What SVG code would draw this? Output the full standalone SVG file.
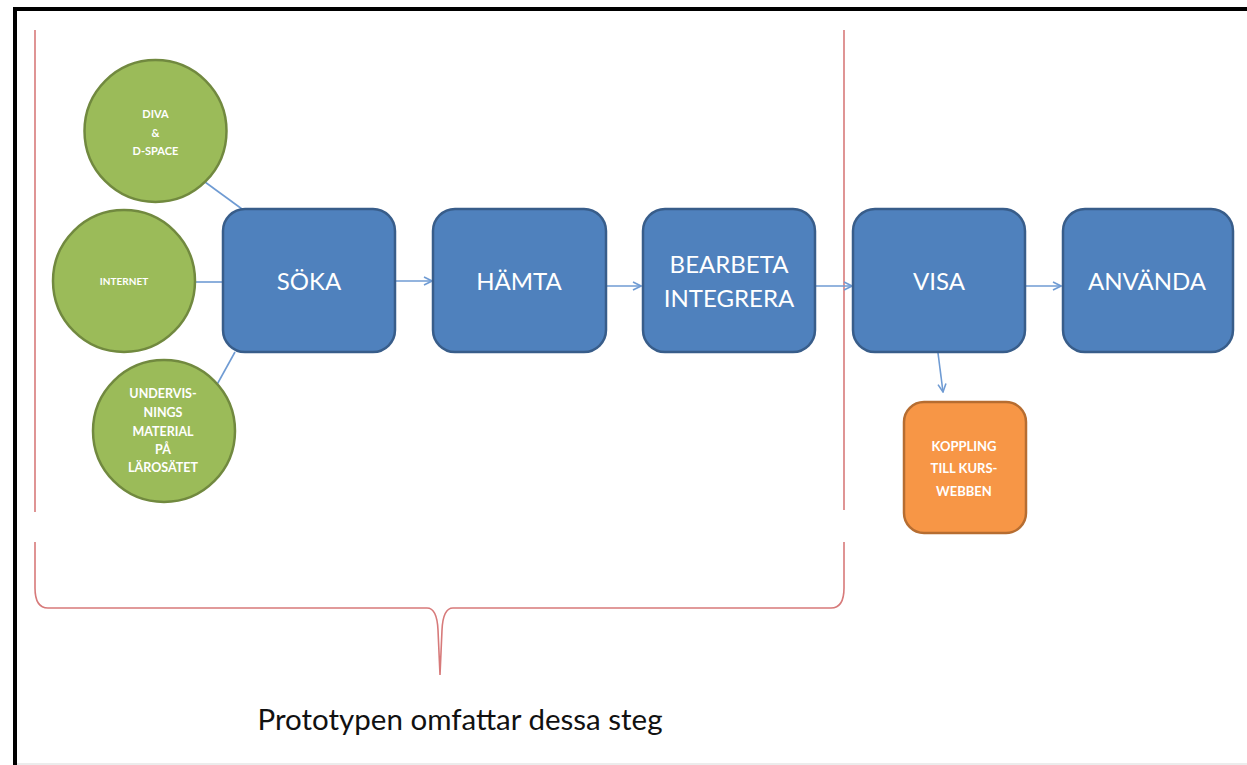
<svg xmlns="http://www.w3.org/2000/svg" width="1247" height="765" viewBox="0 0 1247 765">
<defs>
<style>
.frame{stroke:#000;stroke-width:4;fill:none}
.red{stroke:#D77A7A;stroke-width:1.6;fill:none}
.circ{fill:#9BBB59;stroke:#71893F;stroke-width:2.5}
.box{fill:#4F81BD;stroke:#385D8A;stroke-width:2.5}
.obox{fill:#F79646;stroke:#B66D31;stroke-width:2.5}
.con{stroke:#6F9BD3;stroke-width:1.6;fill:none}
.arr{marker-end:url(#ah)}
.bt{font-family:Lato,"Liberation Sans",sans-serif;font-size:24px;fill:#fff;text-anchor:middle}
.st{font-family:Lato,"Liberation Sans",sans-serif;font-size:11px;font-weight:bold;fill:#fff;text-anchor:middle}
.ot{font-family:Lato,"Liberation Sans",sans-serif;font-size:13px;font-weight:bold;fill:#fff;text-anchor:middle}
.cap{font-family:Lato,"Liberation Sans",sans-serif;font-size:28px;fill:#111;text-anchor:middle}
</style>
<marker id="ah" viewBox="0 0 10 10" refX="9" refY="5" markerWidth="10" markerHeight="10" markerUnits="userSpaceOnUse" orient="auto">
<path d="M1,1 L9,5 L1,9" fill="none" stroke="#6F9BD3" stroke-width="1.6"/>
</marker>
<marker id="ah2" viewBox="0 0 10 10" refX="9" refY="5" markerWidth="10" markerHeight="10" markerUnits="userSpaceOnUse" orient="auto">
<path d="M1,1 L9,5 L1,9" fill="none" stroke="#3F6CA5" stroke-width="1.4"/>
</marker>
</defs>
<rect width="1247" height="765" fill="#fff"/>
<g id="frame">
<line x1="13" y1="9" x2="1247" y2="9" class="frame"/>
<line x1="15" y1="7" x2="15" y2="765" class="frame"/>
<line x1="17" y1="764" x2="1247" y2="764" stroke="#E6E6E6" stroke-width="1.5"/>
</g>
<g id="bracket">
<line x1="35" y1="30" x2="35" y2="512" class="red"/>
<line x1="844" y1="30" x2="844" y2="510" class="red"/>
<path d="M35,542 L35,588 Q35,608 48,608 L427,608 Q437,608 438,630 L440,675 L442,630 Q443,608 453,608 L831,608 Q844,608 844,588 L844,542" class="red"/>
</g>
<g id="connectors">
<line x1="205" y1="182" x2="242" y2="209" class="con"/>
<line x1="196" y1="282" x2="223" y2="282" class="con"/>
<line x1="235" y1="352" x2="214" y2="390" class="con"/>
<line x1="396" y1="281" x2="432" y2="281" class="con arr"/>
<line x1="607" y1="286" x2="641" y2="286" class="con arr"/>
<line x1="816" y1="286" x2="852" y2="286" class="con arr"/>
<line x1="1026" y1="286" x2="1061" y2="286" class="con arr"/>
<line x1="938" y1="353" x2="943" y2="392" class="con arr"/>
<line x1="441" y1="327" x2="476" y2="327" stroke="#3F6CA5" stroke-width="1.4" opacity="0.45" marker-end="url(#ah2)"/>
</g>
<g id="diva">
<circle cx="155.5" cy="131" r="71" class="circ"/>
<text class="st" x="155.5" y="118">DIVA</text>
<text class="st" x="155.5" y="137">&amp;</text>
<text class="st" x="155.5" y="155">D-SPACE</text>
</g>
<g id="internet">
<circle cx="124" cy="281" r="71" class="circ"/>
<text class="st" x="124" y="285" style="font-size:10px">INTERNET</text>
</g>
<g id="undervisning">
<circle cx="164" cy="431" r="71" class="circ"/>
<text class="st" x="163" y="398" style="font-size:12.5px">UNDERVIS-</text>
<text class="st" x="163" y="417" style="font-size:12.5px">NINGS</text>
<text class="st" x="163" y="436" style="font-size:12.5px">MATERIAL</text>
<text class="st" x="163" y="454" style="font-size:12.5px">PÅ</text>
<text class="st" x="163" y="472" style="font-size:12.5px">LÄROSÄTET</text>
</g>
<g id="soka">
<rect x="223" y="209" width="172" height="143" rx="22" class="box"/>
<text class="bt" x="309" y="290">SÖKA</text>
</g>
<g id="hamta">
<rect x="433" y="209" width="173" height="143" rx="22" class="box"/>
<text class="bt" x="519" y="290">HÄMTA</text>
</g>
<g id="bearbeta">
<rect x="643" y="209" width="172" height="143" rx="22" class="box"/>
<text class="bt" x="729" y="273">BEARBETA</text>
<text class="bt" x="729" y="307">INTEGRERA</text>
</g>
<g id="visa">
<rect x="853" y="209" width="172" height="143" rx="22" class="box"/>
<text class="bt" x="939" y="290">VISA</text>
</g>
<g id="anvanda">
<rect x="1063" y="209" width="170" height="143" rx="22" class="box"/>
<text class="bt" x="1147" y="290">ANVÄNDA</text>
</g>
<g id="koppling">
<rect x="904" y="402" width="122" height="131" rx="20" class="obox"/>
<text class="ot" x="964" y="451">KOPPLING</text>
<text class="ot" x="964" y="473">TILL KURS-</text>
<text class="ot" x="964" y="496">WEBBEN</text>
</g>
<g id="caption">
<text class="cap" x="460" y="730" textLength="405" lengthAdjust="spacingAndGlyphs">Prototypen omfattar dessa steg</text>
</g>
</svg>
